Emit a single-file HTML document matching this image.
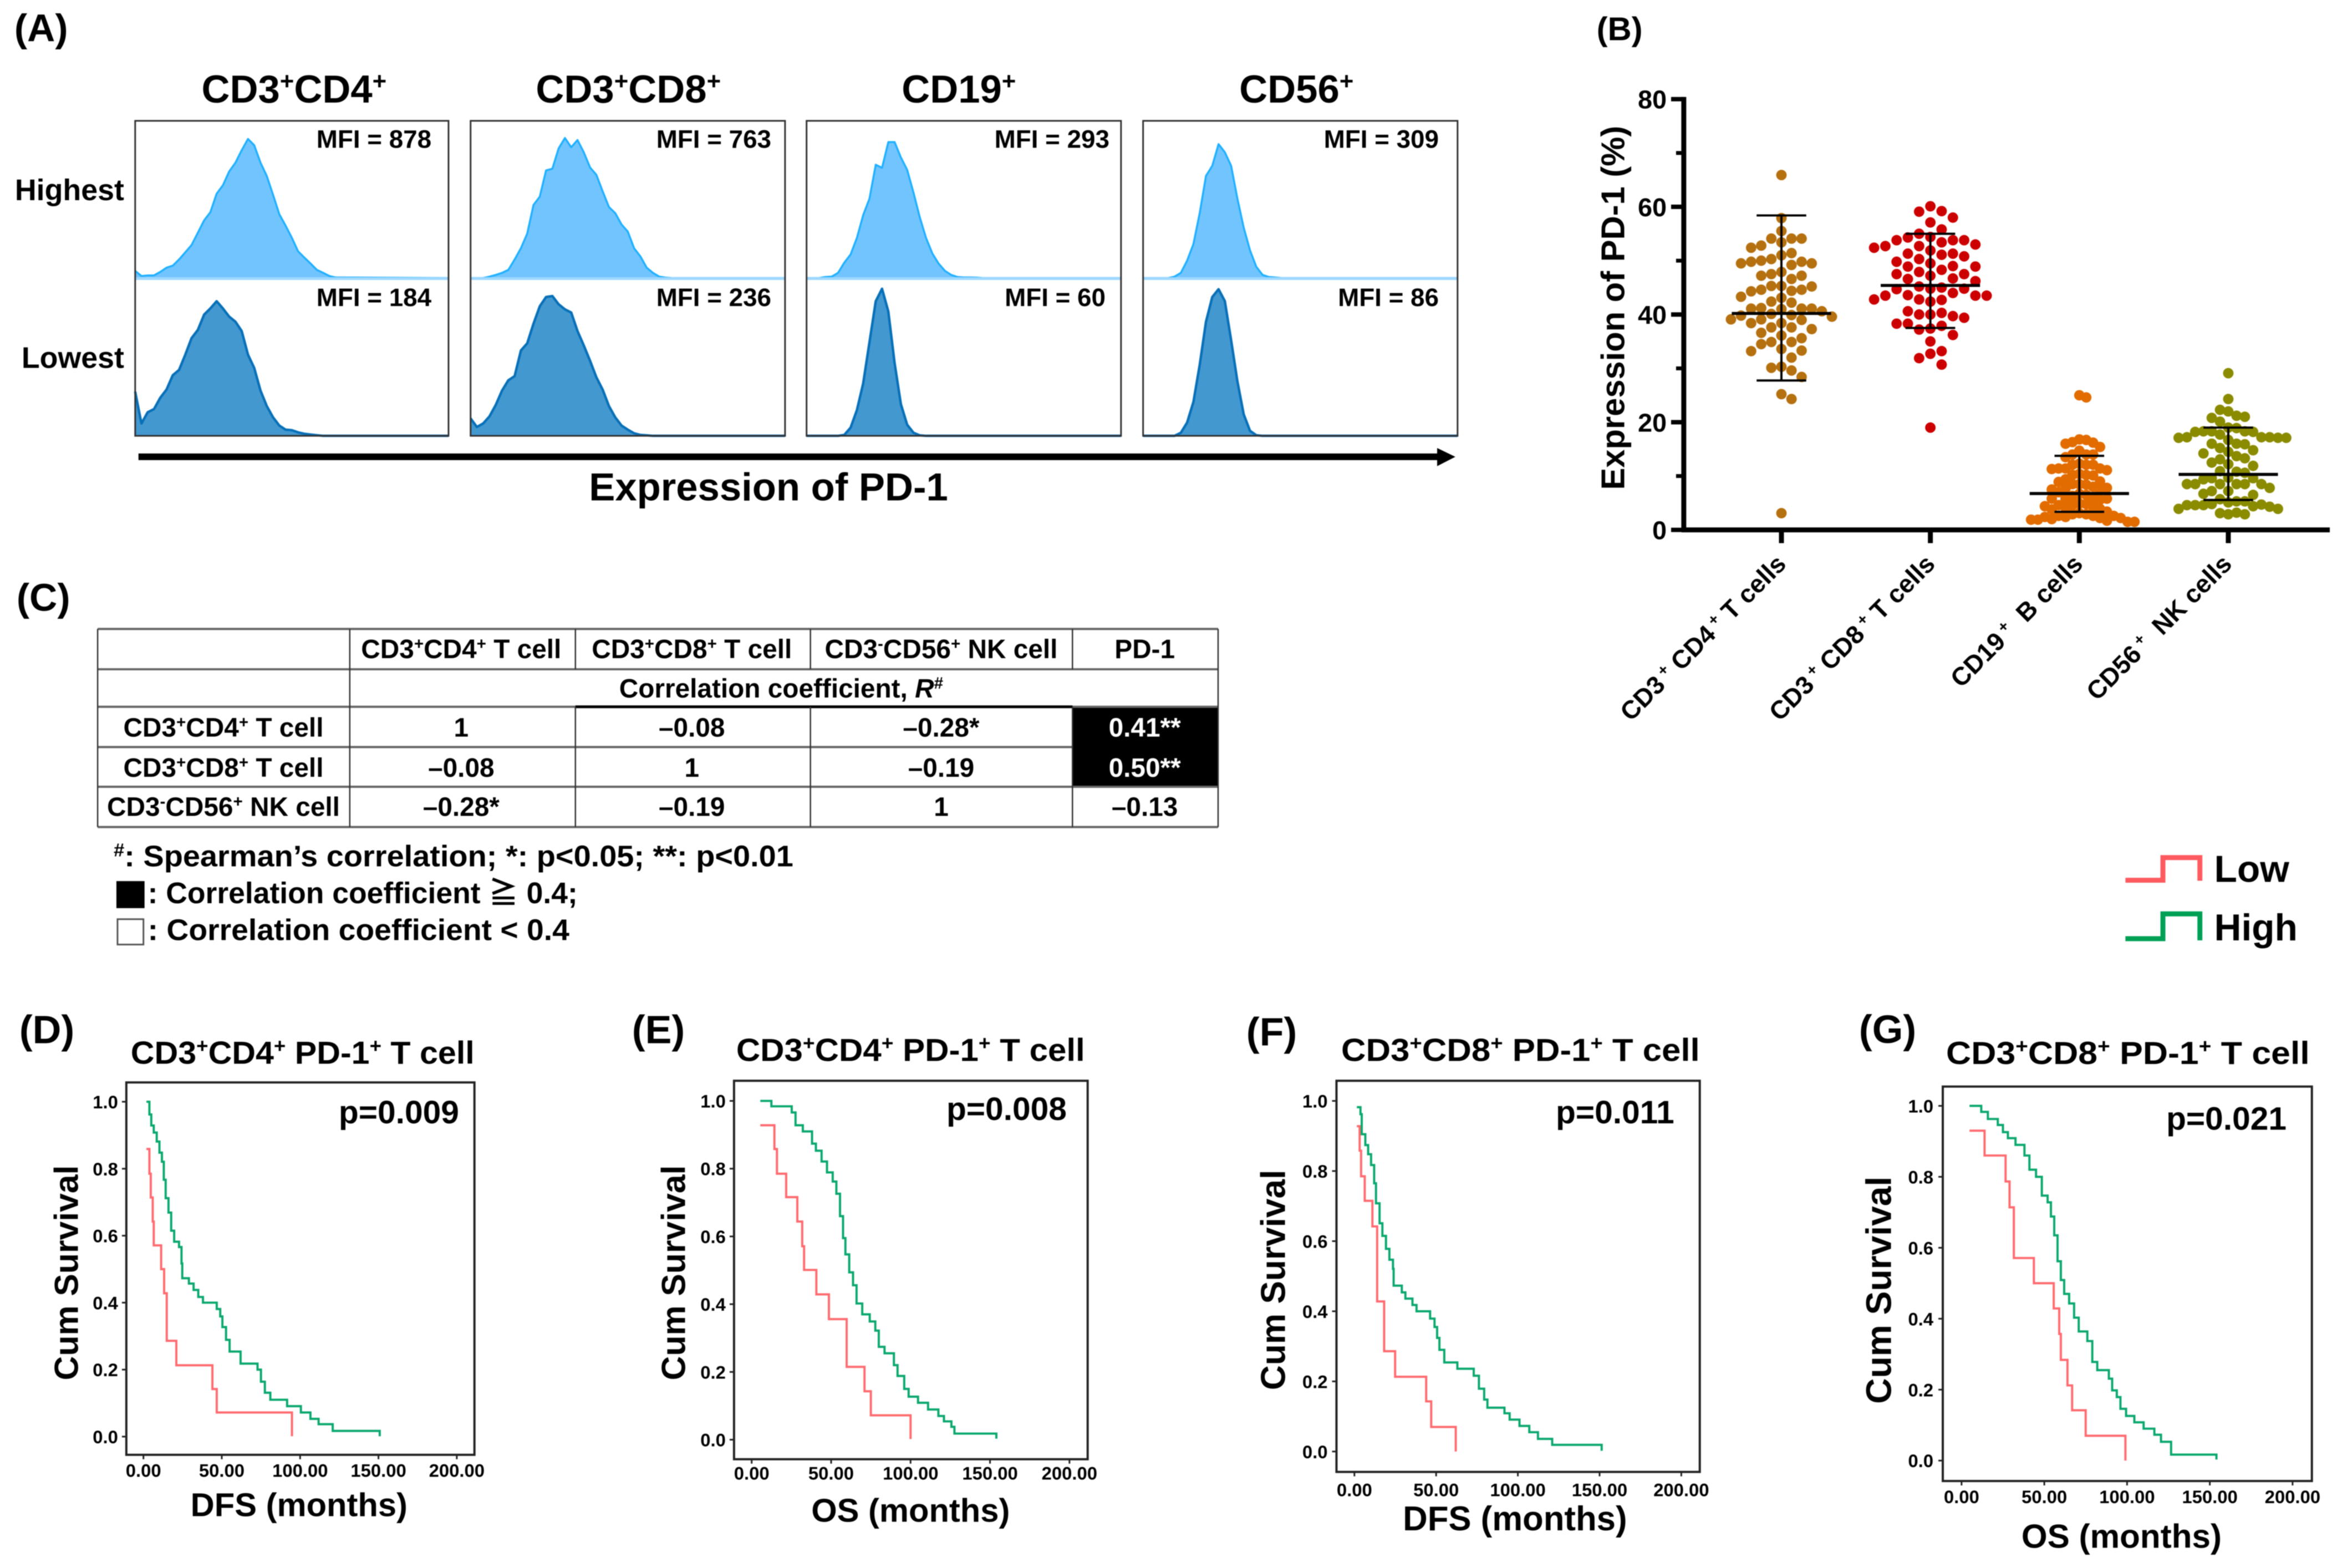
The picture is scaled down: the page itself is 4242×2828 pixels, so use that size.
<!DOCTYPE html>
<html lang="en">
<head>
<meta charset="utf-8">
<title>PD-1 expression figure</title>
<style>
html,body{margin:0;padding:0;background:#fff;width:4242px;height:2828px;overflow:hidden}
svg{display:block;filter:blur(0.9px)}
text{font-family:"Liberation Sans","Noto Sans CJK JP",sans-serif;font-weight:700;fill:#000}
.s{font-size:.62em;baseline-shift:super}
.c{text-anchor:middle}
.e{text-anchor:end}
</style>
</head>
<body>
<svg id="fig" xmlns="http://www.w3.org/2000/svg" width="4242" height="2828" viewBox="0 0 4242 2828">
<rect x="0" y="0" width="4242" height="2828" fill="#fff"/>

<!-- Panel A -->
<g id="panelA" transform="matrix(.995 0 0 .995 0 0)">
<text x="26" y="75" font-size="70">(A)</text>
<text x="533" y="186" font-size="71" class="c">CD3<tspan class="s">+</tspan>CD4<tspan class="s">+</tspan></text>
<text x="1139" y="186" font-size="71" class="c">CD3<tspan class="s">+</tspan>CD8<tspan class="s">+</tspan></text>
<text x="1738" y="186" font-size="71" class="c">CD19<tspan class="s">+</tspan></text>
<text x="2350" y="186" font-size="71" class="c">CD56<tspan class="s">+</tspan></text>
<text x="225" y="363" font-size="54" class="e">Highest</text>
<text x="225" y="667" font-size="54" class="e">Lowest</text>
<g id="histLayer"></g>
<g stroke="#9FD8FF" stroke-width="5">
<line x1="245" x2="813" y1="505" y2="505"/>
<line x1="853" x2="1423" y1="505" y2="505"/>
<line x1="1462" x2="2032" y1="505" y2="505"/>
<line x1="2072" x2="2642" y1="505" y2="505"/>
</g>
<g fill="none" stroke="#333" stroke-width="3">
<rect x="245" y="219" width="568" height="571"/>
<rect x="853" y="219" width="570" height="571"/>
<rect x="1462" y="219" width="570" height="571"/>
<rect x="2072" y="219" width="570" height="571"/>
</g>
<g font-size="46">
<text x="782" y="268" class="e" font-size="46">MFI = 878</text>
<text x="1398" y="268" class="e" font-size="46">MFI = 763</text>
<text x="2011" y="268" class="e" font-size="46">MFI = 293</text>
<text x="2608" y="268" class="e" font-size="46">MFI = 309</text>
<text x="782" y="555" class="e" font-size="46">MFI = 184</text>
<text x="1398" y="555" class="e" font-size="46">MFI = 236</text>
<text x="2004" y="555" class="e" font-size="46">MFI = 60</text>
<text x="2608" y="555" class="e" font-size="46">MFI = 86</text>
</g>
<g>
<rect x="251" y="822" width="2360" height="12" fill="#000"/>
<path d="M2605 812L2638 828L2605 845Z" fill="#000"/>
</g>
<text x="1393" y="907" font-size="71" class="c">Expression of PD-1</text>
</g>

<!-- Panel B -->
<g id="panelB" transform="matrix(.995 0 0 .995 14 0)">
<text x="2880" y="73" font-size="60">(B)</text>
<text transform="translate(2930 558) rotate(-90)" font-size="60" class="c">Expression of PD-1 (%)</text>
<text transform="translate(3226 1025) rotate(-45)" font-size="46" class="e">CD3<tspan class="s"> +</tspan> CD4<tspan class="s"> +</tspan> T cells</text>
<text transform="translate(3496 1025) rotate(-45)" font-size="46" class="e">CD3<tspan class="s"> +</tspan> CD8<tspan class="s"> +</tspan> T cells</text>
<text transform="translate(3764 1025) rotate(-45)" font-size="46" class="e">CD19<tspan class="s"> +</tspan>&#160; B cells</text>
<text transform="translate(4034 1025) rotate(-45)" font-size="46" class="e">CD56<tspan class="s"> +</tspan>&#160; NK cells</text>
<g id="dotLayer"></g>
<g id="axisB"></g>
</g>

<!-- Panel C -->
<g id="panelC" transform="matrix(.995 0 0 .995 0 5.1)">
<text x="30" y="1102" font-size="70">(C)</text>
<rect x="1944" y="1276" width="264" height="146" fill="#000"/>
<g stroke="#666" stroke-width="4">
<line x1="177" x2="2208" y1="1135" y2="1135"/>
<line x1="177" x2="2208" y1="1208" y2="1208"/>
<line x1="177" x2="2208" y1="1276" y2="1276"/>
<line x1="177" x2="1944" y1="1349" y2="1349"/>
<line x1="177" x2="2208" y1="1421" y2="1421"/>
<line x1="177" x2="2208" y1="1494" y2="1494"/>
</g>
<line x1="1043" x2="1944" y1="1276" y2="1276" stroke="#000" stroke-width="5"/>
<g stroke="#333" stroke-width="2.5">
<line x1="177" x2="177" y1="1135" y2="1494"/>
<line x1="634" x2="634" y1="1135" y2="1494"/>
<line x1="1043" x2="1043" y1="1135" y2="1208"/>
<line x1="1043" x2="1043" y1="1276" y2="1494"/>
<line x1="1469" x2="1469" y1="1135" y2="1208"/>
<line x1="1469" x2="1469" y1="1276" y2="1494"/>
<line x1="1944" x2="1944" y1="1135" y2="1208"/>
<line x1="1944" x2="1944" y1="1276" y2="1494"/>
<line x1="2208" x2="2208" y1="1135" y2="1494"/>
</g>
<g font-size="48">
<text x="836" y="1188" font-size="48" class="c">CD3<tspan class="s">+</tspan>CD4<tspan class="s">+</tspan> T cell</text>
<text x="1254" y="1188" font-size="48" class="c">CD3<tspan class="s">+</tspan>CD8<tspan class="s">+</tspan> T cell</text>
<text x="1706" y="1188" font-size="48" class="c">CD3<tspan class="s">-</tspan>CD56<tspan class="s">+</tspan> NK cell</text>
<text x="2075" y="1188" font-size="48" class="c">PD-1</text>
<text x="1416" y="1259" font-size="48" class="c">Correlation coefficient, <tspan font-style="italic">R</tspan><tspan class="s">#</tspan></text>
<text x="405" y="1330" font-size="48" class="c">CD3<tspan class="s">+</tspan>CD4<tspan class="s">+</tspan> T cell</text>
<text x="405" y="1403" font-size="48" class="c">CD3<tspan class="s">+</tspan>CD8<tspan class="s">+</tspan> T cell</text>
<text x="405" y="1474" font-size="48" class="c">CD3<tspan class="s">-</tspan>CD56<tspan class="s">+</tspan> NK cell</text>
<text x="836" y="1330" font-size="48" class="c">1</text>
<text x="1254" y="1330" font-size="48" class="c">–0.08</text>
<text x="1706" y="1330" font-size="48" class="c">–0.28*</text>
<text x="2075" y="1330" font-size="48" class="c" style="fill:#fff">0.41**</text>
<text x="836" y="1403" font-size="48" class="c">–0.08</text>
<text x="1254" y="1403" font-size="48" class="c">1</text>
<text x="1706" y="1403" font-size="48" class="c">–0.19</text>
<text x="2075" y="1403" font-size="48" class="c" style="fill:#fff">0.50**</text>
<text x="836" y="1474" font-size="48" class="c">–0.28*</text>
<text x="1254" y="1474" font-size="48" class="c">–0.19</text>
<text x="1706" y="1474" font-size="48" class="c">1</text>
<text x="2075" y="1474" font-size="48" class="c">–0.13</text>
</g>
<text x="206" y="1565" font-size="54" textLength="1232" lengthAdjust="spacingAndGlyphs"><tspan class="s">#</tspan>: Spearman’s correlation; *: p&lt;0.05; **: p&lt;0.01</text>
<rect x="211" y="1592" width="51" height="49" fill="#000"/>
<text x="268" y="1632" font-size="54" textLength="779" lengthAdjust="spacingAndGlyphs">: Correlation coefficient ≧ 0.4;</text>
<rect x="213" y="1661" width="47" height="46" fill="#fff" stroke="#555" stroke-width="3"/>
<text x="268" y="1699" font-size="54" textLength="764" lengthAdjust="spacingAndGlyphs">: Correlation coefficient &lt; 0.4</text>
</g>

<!-- Survival legend -->
<g transform="matrix(.995 0 0 .995 16.5 7.5)">
<path d="M3836 1588H3904V1547H3971V1589" fill="none" stroke="#FF5A5F" stroke-width="9"/>
<text x="3997" y="1591" font-size="68">Low</text>
<path d="M3836 1694H3904V1649H3971V1697" fill="none" stroke="#00A055" stroke-width="9"/>
<text x="3997" y="1697" font-size="68">High</text>
</g>

<!-- Panels D-G static labels -->
<g transform="matrix(.995 0 0 .995 0 9)">
<text x="35" y="1882" font-size="72">(D)</text>
<text x="237" y="1919" font-size="58" textLength="623" lengthAdjust="spacingAndGlyphs">CD3<tspan class="s">+</tspan>CD4<tspan class="s">+</tspan> PD-1<tspan class="s">+</tspan> T cell</text>
<text x="614" y="2027" font-size="59">p=0.009</text>
<text transform="translate(121 2298) rotate(-90) translate(0 20)" font-size="61" class="c">Cum Survival</text>
<text x="542" y="2739" font-size="60" class="c">DFS (months)</text>
</g>
<g transform="matrix(.995 0 0 .995 5.5 9)">
<text x="1140" y="1882" font-size="72">(E)</text>
<text x="1329" y="1914" font-size="58" textLength="632" lengthAdjust="spacingAndGlyphs">CD3<tspan class="s">+</tspan>CD4<tspan class="s">+</tspan> PD-1<tspan class="s">+</tspan> T cell</text>
<text x="1710" y="2021" font-size="59">p=0.008</text>
<text transform="translate(1216 2298) rotate(-90) translate(0 20)" font-size="61" class="c">Cum Survival</text>
<text x="1645" y="2749" font-size="60" class="c">OS (months)</text>
</g>
<g transform="matrix(.995 0 0 .995 11 9)">
<text x="2248" y="1886" font-size="72">(F)</text>
<text x="2420" y="1914" font-size="58" textLength="650" lengthAdjust="spacingAndGlyphs">CD3<tspan class="s">+</tspan>CD8<tspan class="s">+</tspan> PD-1<tspan class="s">+</tspan> T cell</text>
<text x="2809" y="2027" font-size="59">p=0.011</text>
<text transform="translate(2298 2311) rotate(-90) translate(0 20)" font-size="62.5" class="c">Cum Survival</text>
<text x="2735" y="2765" font-size="62" class="c">DFS (months)</text>
</g>
<g transform="matrix(.995 0 0 .995 16.5 7.5)">
<text x="3353" y="1883" font-size="72">(G)</text>
<text x="3511" y="1921" font-size="58" textLength="659" lengthAdjust="spacingAndGlyphs">CD3<tspan class="s">+</tspan>CD8<tspan class="s">+</tspan> PD-1<tspan class="s">+</tspan> T cell</text>
<text x="3910" y="2040" font-size="59">p=0.021</text>
<text transform="translate(3391 2331) rotate(-90) translate(0 20)" font-size="64.5" class="c">Cum Survival</text>
<text x="3829" y="2798" font-size="60.5" class="c">OS (months)</text>
</g>
<g id="kmLayer"></g>
</svg>

<script>
// ---------- Panel A histogram data ----------
const channelBins = [0,2,4,6,8,10,12,14,16,18,20,22,24,26,28,30,32,34,36,38,40,42,44,46,48,50,52,54,56,58,60,62,64,100];
const histCd4High = [4.6,1.3,1.7,1.7,3.9,6.6,7.9,11.8,16.4,21,28.8,36.7,41.9,53.7,59,67.8,73.4,81.3,88.5,84.5,73.4,64.9,53,40.6,33.4,25.6,17,13,9.2,5.2,3.3,1.3,.4,0];
const histCd8High = [0,0,0,.9,2,3.3,5.2,11.8,19,28.2,46.5,51.8,68.5,69.5,82.5,89.1,83.2,87.8,80,70.3,65.7,55.2,45.2,41.3,34.1,29.5,19,13.8,6.6,3.3,.9,.3,0,0];
const histCd19High = [0,0,0,.7,.9,3.3,9.8,15,25.5,40,50.5,72.1,70.1,86.5,86.5,76.7,68.8,54.4,38.7,25.5,15.7,9.2,4.6,2,.7,.4,.4,.3,0,0,0,0,0,0];
const histCd56High = [0,0,0,0,0,.9,3.3,11.1,21.6,41.3,65,71.4,85.2,80,71.4,50.5,32.1,17.7,7.2,2,.7,.4,0,0,0,0,0,0,0,0,0,0,0,0];
const histCd4Low = [27.9,7.8,14.9,16.9,24,29.2,38.3,41.6,51.3,61.7,66.9,76.6,80.5,85,80.5,75.3,72.1,66.2,51.3,42.9,28.6,18.8,11.7,6.5,3.9,3.6,2.2,1.3,.8,.4,0,0,0,0];
const histCd8Low = [11,5.6,7.8,12.3,19.5,28.6,35.1,37.7,53.9,58.4,70.8,81.8,87.7,88.3,83.1,79.9,77.9,66.2,57.1,47.4,37,29.2,18.8,11.7,6.5,3.9,1.6,.6,.3,0,0,0,0,0];
const histCd19Low = [0,0,0,0,0,0,.6,5.2,16.2,33.1,59.1,85,92.9,78.6,46,20,7,2,.3,0,0,0,0,0,0,0,0,0,0,0,0,0,0,0];
const histCd56Low = [0,0,0,0,0,0,1.9,8.4,21.4,44.8,72.1,87.7,92.6,85.1,60.4,34.4,13.6,3.2,.4,0,0,0,0,0,0,0,0,0,0,0,0,0,0,0];

// ---------- Panel B dot plot data ----------
const dotCategories = ['CD3+CD4+ T cells','CD3+CD8+ T cells','CD19+ B cells','CD56+ NK cells'];
const dotTickLabels = [0,20,40,60,80];
const dotMinorTicks = [10,30,50,70];
const dotsCd4 = [65.9,57.9,55.5,54.1,54.1,54.1,53.4,52.8,52.4,51.4,51,50.3,50,49.8,49.8,49.5,49.5,49.2,47.9,47.5,47.2,47.2,46.6,45.3,45.3,45.2,44.6,44.6,44.4,44.3,43.3,43.1,42.4,42.2,41.2,41.1,41.1,41.1,41,40.6,40.1,39.9,39.8,39.6,39.1,39.1,39,38.4,38.4,37.6,37.6,37.3,36.6,36.1,35.6,34.9,34.9,34.5,33.6,33.3,33.2,32,30.3,30.1,29.6,28.4,25.2,24.3,3.1];
const dotsCd8 = [60.1,59.2,59.1,58,57.1,55.8,55,54.4,54.3,53.8,53.8,53.8,53.4,53,52.7,52.7,52.4,51.9,51.3,51.3,51.1,50.8,50.3,49.8,49.5,49,48.9,48.9,48.3,47.9,47.5,47.5,47.2,46.7,46.6,46.2,45.2,45,44.8,44.8,44.7,44,43.6,43.5,43.5,43.5,42.8,42.8,42.7,42.4,40.6,40.3,40,40,39.7,39.4,38.3,38.3,37.9,37.4,37.2,36.2,35,33.2,32.7,31.9,30.7,19];
const dotsCd19 = [25,24.6,16.8,16.7,16.3,16.2,16,15.4,14.7,14,14,14,13.5,12.3,12.1,12.1,12.1,11.4,11.4,11.4,11.3,11.1,10.4,10.2,10.2,10.1,9.4,9,8.9,8.5,8.5,8.4,8,7.8,7.7,7.5,7.3,7,6.7,6.5,6.3,6,5.8,5.8,5.8,5.6,4.9,4.8,4.6,4.6,4.4,4.3,4.1,3.9,3.8,3.4,3.1,2.9,2.9,2.6,2.6,2.6,2.4,2.4,2.2,2.2,2,1.9,1.9,1.7,1.5,1.5];
const dotsCd56 = [29.1,24.3,22.3,22,21.2,21,20.8,20.1,19,18.9,18.3,18.3,18.3,18.2,18.2,17.7,17.2,17.2,17.2,17.1,17.1,17.1,16.7,16,16,15.9,15.2,14.8,14.5,14.2,13.7,13.3,13.1,12.5,12.2,11.9,10.9,10.8,10.6,9.7,9.6,9.6,9.4,8.5,8.5,8.5,8.5,8.5,8.5,7.8,7.2,7.2,6.7,6.5,5.7,5.3,5.3,5.1,4.8,4.7,4.6,4.6,4.6,4.4,4.3,3.9,3.9,3.2,3.1,2.9,2.9];
const statMid = [40.2,45.4,6.75,10.3];
const statHigh = [58.4,55,13.75,19];
const statLow = [27.75,37.5,3.35,5.56];

// ---------- Panels D-G survival data ----------
const kmXTicks = [0,50,100,150,200];
const kmXTickLabels = ['0.00','50.00','100.00','150.00','200.00'];
const kmYTicks = [0,0.2,0.4,0.6,0.8,1];
const kmYTickLabels = ['0.0','0.2','0.4','0.6','0.8','1.0'];

const dHighTime = [1.9,3.8,5,6.6,8.5,10.2,11.8,13,14.2,16,17.7,19.6,22.7,24.3,24.8,29,32,35,38,46.8,49,50.4,52.7,55,62,72.8,75,77.5,81,91.7,100.5,106.6,111.8,120.8,150.8];
const dHighSurv = [1,.962,.929,.908,.881,.848,.821,.767,.712,.669,.615,.582,.566,.517,.473,.457,.438,.417,.4,.381,.359,.327,.289,.254,.218,.2,.164,.131,.11,.091,.072,.053,.037,.017,.001];
const dLowTime = [1.9,3.8,4.7,5.9,6.6,11.3,13.2,14.9,21,44,46.8,94.8];
const dLowSurv = [.859,.785,.714,.642,.571,.5,.428,.286,.213,.142,.072,.001];

const eHighTime = [5.4,12.4,25.2,27.6,32.2,38,40.4,44,47.4,51,53.3,55.6,57.5,59,61.4,63.8,66,69.6,74.3,77.8,80,83.6,89.5,91.8,96,98.8,104.7,111,117.5,121,125.7,127.6,154];
const eHighSurv = [1,.984,.966,.928,.91,.874,.853,.821,.789,.762,.726,.66,.595,.547,.494,.456,.402,.37,.349,.322,.274,.255,.22,.188,.15,.127,.109,.089,.07,.054,.038,.018,.003];
const eLowTime = [5.4,14.3,15.9,21.7,28.7,31.8,33,40.7,48.6,59.8,71,75,100];
const eLowSurv = [.928,.858,.785,.716,.644,.571,.501,.429,.356,.215,.143,.072,.002];

const fHighTime = [1.5,3.7,4.5,6.7,8.4,10.2,12.1,13.2,15.4,17.1,19.3,21.4,23.6,24,29,31.2,35.5,38,46.3,49,50.6,52,55,63,73,76.2,79.4,81.4,91.8,95,101,107,112.3,121,151.3];
const fHighSurv = [.982,.962,.905,.874,.848,.817,.765,.708,.651,.615,.578,.547,.521,.473,.454,.436,.418,.4,.379,.355,.324,.29,.254,.236,.216,.179,.148,.125,.109,.091,.073,.055,.036,.019,.002];
const fLowTime = [1.5,3.2,4.1,6.3,11,13.9,18.2,24.9,43.9,47,62];
const fLowSurv = [.928,.858,.785,.715,.642,.428,.286,.213,.143,.07,0];

const gHighTime = [4.8,11.9,15.9,21.9,25,28,32.6,38,41,45,48.5,52,54,56,58,60,62,65,68,70.8,76,79,82,89,91,93.8,96,99.4,104.4,110,116.5,120.5,126.6,154];
const gHighSurv = [1,.983,.963,.946,.926,.909,.89,.86,.82,.8,.747,.728,.688,.635,.562,.509,.47,.443,.403,.364,.337,.278,.255,.231,.198,.179,.146,.126,.108,.09,.073,.053,.017,.003];
const gLowTime = [4.8,13.9,26.6,29,31.6,43.7,55.7,59,60,64,66.8,75,99];
const gLowSurv = [.93,.86,.787,.714,.571,.5,.429,.357,.284,.212,.142,.07,0];

// ---------- helpers ----------
const NS = 'http://www.w3.org/2000/svg';
function mk(parent, tag, attrs, txt) {
  const el = document.createElementNS(NS, tag);
  for (const k in attrs) el.setAttribute(k, attrs[k]);
  if (txt !== undefined) el.textContent = txt;
  parent.appendChild(el);
  return el;
}

// ---------- Panel A ----------
const histLayer = document.getElementById('histLayer');
function drawHist(counts, left, width, base, height, fill, stroke, lw) {
  const hx = ch => left + ch / 100 * width;
  const hy = c => base - c / 100 * height;
  let d = '';
  channelBins.forEach((ch, i) => { d += (i ? 'L' : 'M') + hx(ch).toFixed(1) + ' ' + hy(counts[i]).toFixed(1); });
  const area = mk(histLayer, 'path', {d: d + 'L' + hx(100) + ' ' + base + 'L' + hx(0) + ' ' + base + 'Z', fill: fill, stroke: 'none'});
  
  
  const line = mk(histLayer, 'path', {d: d, fill: 'none', stroke: stroke, 'stroke-width': lw, 'stroke-linejoin': 'round'});
  
  
}
const hiFill = '#72C4FF', hiLine = '#1FB0FF', loFill = '#4398D0', loLine = '#0870B8';
drawHist(histCd4High, 245, 568, 504, 285, hiFill, hiLine, 3.5);
drawHist(histCd8High, 853, 570, 504, 285, hiFill, hiLine, 3.5);
drawHist(histCd19High, 1462, 570, 504, 285, hiFill, hiLine, 3.5);
drawHist(histCd56High, 2072, 570, 504, 285, hiFill, hiLine, 3.5);
drawHist(histCd4Low, 245, 568, 790, 287, loFill, loLine, 4.5);
drawHist(histCd8Low, 853, 570, 790, 287, loFill, loLine, 4.5);
drawHist(histCd19Low, 1462, 570, 790, 287, loFill, loLine, 4.5);
drawHist(histCd56Low, 2072, 570, 790, 287, loFill, loLine, 4.5);

// ---------- Panel B ----------
const dotLayer = document.getElementById('dotLayer');
const axisB = document.getElementById('axisB');
const by = v => 960.5 - v * 9.76;
const bx = i => 3215 + i * 270;
function swarm(values, laneStep, minGap) {
  const lanes = {};
  const out = [];
  const sorted = values.slice().sort((a, b) => b - a);
  sorted.forEach((v, idx) => {
    const y = by(v);
    const dir = idx % 2 ? 1 : -1;
    for (let k = 0; k < 60; k++) {
      const lane = k === 0 ? 0 : (k % 2 ? dir : -dir) * Math.ceil(k / 2);
      const col = lanes[lane] || (lanes[lane] = []);
      if (col.every(p => Math.abs(p - y) >= minGap)) {
        col.push(y);
        out.push({v: v, off: lane * laneStep});
        break;
      }
    }
  });
  return out;
}
function drawDots(values, idx, color, laneStep, minGap) {
  swarm(values, laneStep, minGap).forEach(p => {
    const c = mk(dotLayer, 'circle', {cx: (bx(idx) + p.off).toFixed(1), cy: by(p.v).toFixed(1), r: 9.5, fill: color});
    
    
  });
}
drawDots(dotsCd4, 0, '#B5700F', 18.3, 20);
drawDots(dotsCd8, 1, '#CC0000', 20.4, 22);
drawDots(dotsCd19, 2, '#E36C00', 12.5, 16);
drawDots(dotsCd56, 3, '#8B8B00', 15, 20);

dotCategories.forEach((name, i) => {
  const x = bx(i);
  const mid = mk(dotLayer, 'line', {x1: x - 90, x2: x + 90, y1: by(statMid[i]), y2: by(statMid[i]), stroke: '#000', 'stroke-width': 5.5});
  
  
  const stem = mk(dotLayer, 'line', {x1: x, x2: x, y1: by(statHigh[i]), y2: by(statLow[i]), stroke: '#000', 'stroke-width': 4});
  
  
  [statHigh[i], statLow[i]].forEach(v => {
    const cap = mk(dotLayer, 'line', {x1: x - 45, x2: x + 45, y1: by(v), y2: by(v), stroke: '#000', 'stroke-width': 4});
    
    
  });
  const tick = mk(axisB, 'line', {x1: x, x2: x, y1: by(0), y2: by(0) + 24, stroke: '#000', 'stroke-width': 9});
  
  
});
const yAxisB = mk(axisB, 'line', {x1: 3038, x2: 3038, y1: by(80) - 4, y2: by(0) + 4, stroke: '#000', 'stroke-width': 9});


const xAxisB = mk(axisB, 'line', {x1: 3034, x2: 4209, y1: by(0), y2: by(0), stroke: '#000', 'stroke-width': 9});


dotTickLabels.forEach(v => {
  const t = mk(axisB, 'line', {x1: 3015, x2: 3038, y1: by(v), y2: by(v), stroke: '#000', 'stroke-width': 8});
  
  
  const l = mk(axisB, 'text', {x: 3007, y: by(v) + 17, 'font-size': 47, 'text-anchor': 'end'}, String(v));
  
  
});
dotMinorTicks.forEach(v => {
  const t = mk(axisB, 'line', {x1: 3024, x2: 3038, y1: by(v), y2: by(v), stroke: '#000', 'stroke-width': 7});
  
  
});

// ---------- Panels D-G ----------
const kmLayer = document.getElementById('kmLayer');
function stepPath(times, surv, sx, sy) {
  let d = 'M' + sx(times[0]).toFixed(1) + ' ' + sy(surv[0]).toFixed(1);
  for (let i = 1; i < times.length; i++) {
    d += 'H' + sx(times[i]).toFixed(1) + 'V' + sy(surv[i]).toFixed(1);
  }
  return d;
}
function drawKM(matrix, box, x0, x200, y0, y1, tickY, yLabelX, highT, highS, lowT, lowS) {
  const sx = t => x0 + t / 200 * (x200 - x0);
  const sy = s => y0 + s * (y1 - y0);
  const g = mk(kmLayer, 'g', {transform: matrix});
  
  
  const frame = mk(g, 'rect', {x: box[0], y: box[1], width: box[2] - box[0], height: box[3] - box[1], fill: 'none', stroke: '#222', 'stroke-width': 4});
  
  
  kmXTicks.forEach((v, i) => {
    const t = mk(g, 'line', {x1: sx(v), x2: sx(v), y1: box[3], y2: box[3] + 8, stroke: '#222', 'stroke-width': 3});
    
    
    const l = mk(g, 'text', {x: sx(v), y: tickY, 'font-size': 33, 'text-anchor': 'middle'}, kmXTickLabels[i]);
    
    
  });
  kmYTicks.forEach((v, i) => {
    const t = mk(g, 'line', {x1: box[0] - 8, x2: box[0], y1: sy(v), y2: sy(v), stroke: '#222', 'stroke-width': 3});
    
    
    const l = mk(g, 'text', {x: yLabelX, y: sy(v) + 12, 'font-size': 33, 'text-anchor': 'end'}, kmYTickLabels[i]);
    
    
  });
  const low = mk(g, 'path', {d: stepPath(lowT, lowS, sx, sy), fill: 'none', stroke: '#FF6B70', 'stroke-width': 4});
  
  
  const high = mk(g, 'path', {d: stepPath(highT, highS, sx, sy), fill: 'none', stroke: '#0BA86E', 'stroke-width': 4});
  
  
}
drawKM('matrix(.995 0 0 .995 0 9)', [229,1953,860,2628], 260, 828, 2595, 1988, 2668, 214, dHighTime, dHighSurv, dLowTime, dLowSurv);
drawKM('matrix(.995 0 0 .995 5.5 9)', [1325,1950,1966,2636], 1357, 1933, 2600.6, 1986.5, 2673, 1310, eHighTime, eHighSurv, eLowTime, eLowSurv);
drawKM('matrix(.995 0 0 .995 11 9)', [2411.5,1950,3070,2659], 2444, 3036.5, 2622, 1986.5, 2703, 2395.5, fHighTime, fHighSurv, fLowTime, fLowSurv);
drawKM('matrix(.995 0 0 .995 16.5 7.5)', [3505,1962,4174,2677], 3539, 4139, 2640, 1997, 2717, 3488, gHighTime, gHighSurv, gLowTime, gLowSurv);
</script>
</body>
</html>
